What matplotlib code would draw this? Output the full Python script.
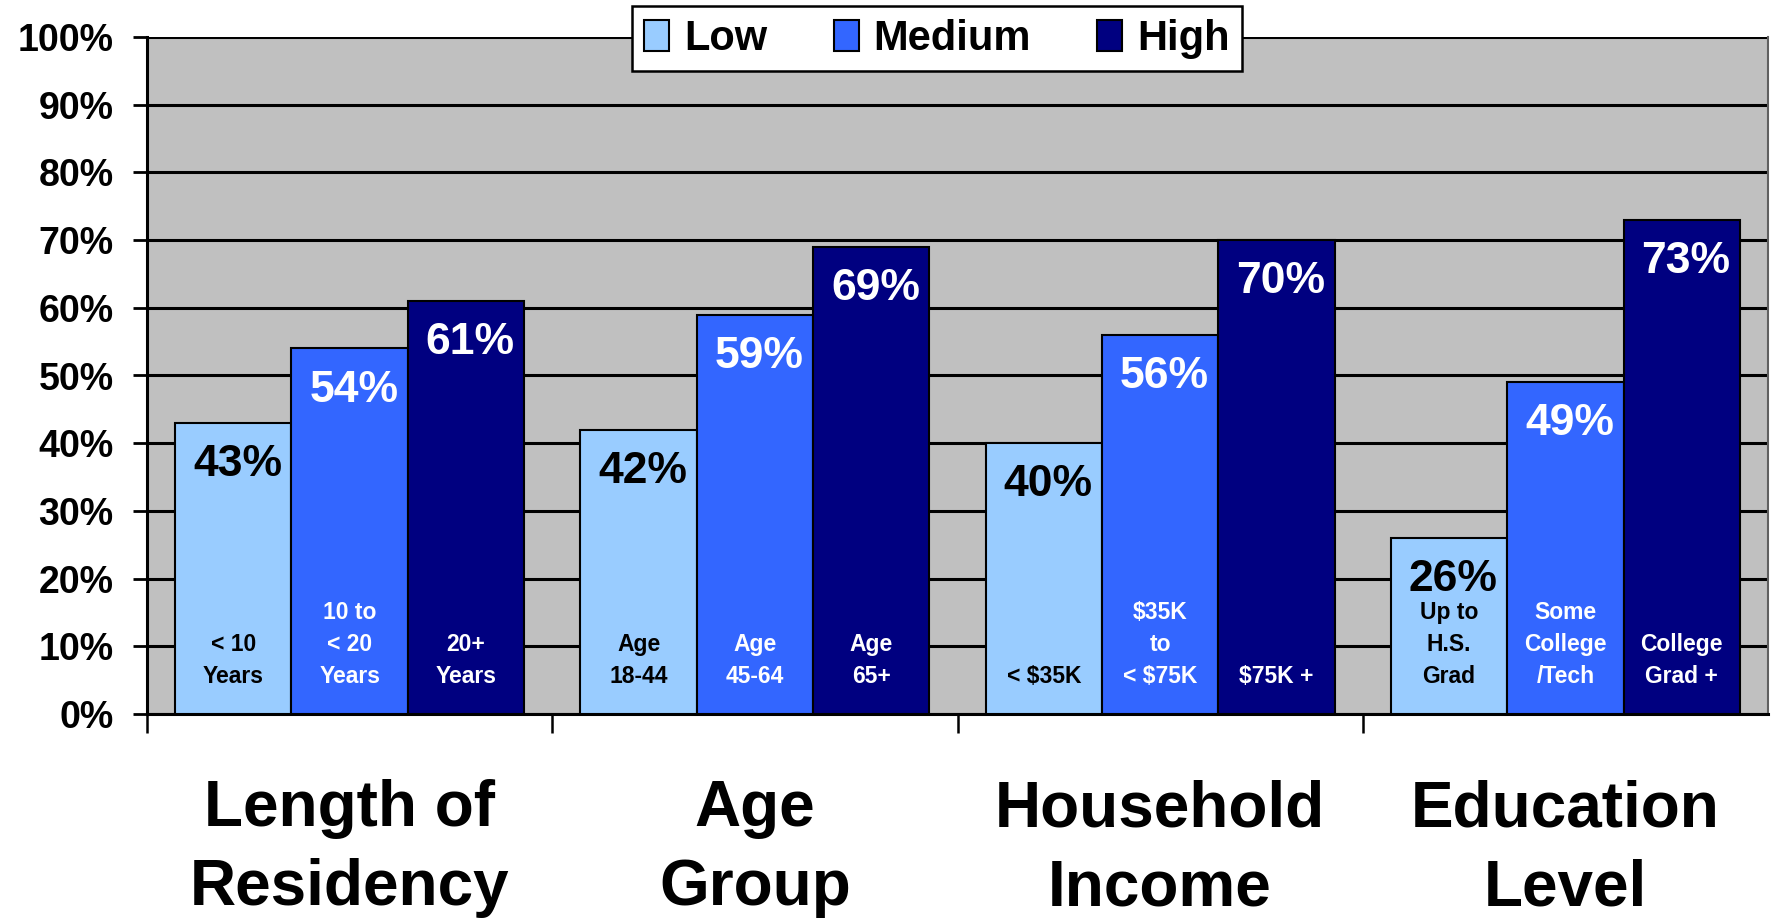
import matplotlib
matplotlib.use("Agg")
import matplotlib.pyplot as plt
import numpy as np
from matplotlib.ticker import FixedLocator

plt.rcParams['font.family'] = ['Liberation Sans', 'DejaVu Sans']
plt.rcParams['font.weight'] = 'bold'

groups = ["Length of\nResidency", "Age\nGroup", "Household\nIncome", "Education\nLevel"]
series = ["Low", "Medium", "High"]
low = [43, 42, 40, 26]
medium = [54, 59, 56, 49]
high = [61, 69, 70, 73]
low_labels = ["< 10\nYears", "Age\n18-44", "< $35K", "Up to\nH.S.\nGrad"]
medium_labels = ["10 to\n< 20\nYears", "Age\n45-64", "$35K\nto\n< $75K", "Some\nCollege\n/Tech"]
high_labels = ["20+\nYears", "Age\n65+", "$75K +", "College\nGrad +"]
yticks = [0, 10, 20, 30, 40, 50, 60, 70, 80, 90, 100]

colors = ["#99CCFF", "#3366FF", "#000080"]
text_colors = ["black", "white", "white"]

fig = plt.figure(figsize=(17.72, 9.21), dpi=100)
ax = fig.add_axes([147/1772, 1-714/921, (1768-147)/1772, (714-37)/921])
ax.set_facecolor("#C0C0C0")

x = np.arange(len(groups))
w = 0.287
all_vals = [low, medium, high]
all_labels = [low_labels, medium_labels, high_labels]
for j, (vals, labs) in enumerate(zip(all_vals, all_labels)):
    xs = x + (j - 1) * w
    ax.bar(xs, vals, width=w, color=colors[j], edgecolor="black",
           linewidth=1.5, zorder=3, label=series[j])
    for xi, v, lab in zip(xs, vals, labs):
        ax.annotate(f"{v}%", (xi, v), xytext=(3, -30), textcoords="offset points",
                    ha="center", va="center", fontsize=32, fontweight="bold",
                    color=text_colors[j], zorder=5)
        ax.text(xi, 3.8, lab, ha="center", va="bottom", multialignment="center",
                fontsize=16.5, fontweight="bold", color=text_colors[j],
                linespacing=1.5, zorder=5)

ax.set_ylim(0, 100)
ax.set_xlim(-0.5, len(groups) - 0.5)
ax.set_yticks(yticks)
ax.set_yticklabels([f"{t}%" for t in yticks], fontsize=27, fontweight="bold")
ax.yaxis.grid(True, color="black", linewidth=2.2, zorder=0)
ax.set_axisbelow(True)
ax.tick_params(axis="y", length=10, width=2, pad=14, direction="out")

ax.set_xticks(x)
ax.set_xticklabels(groups, fontsize=46, fontweight="bold", linespacing=1.4)
ax.tick_params(axis="x", which="major", length=0, pad=47)
ax.xaxis.set_minor_locator(FixedLocator(np.arange(len(groups)) - 0.5))
ax.tick_params(axis="x", which="minor", length=14, width=1.8, direction="out")

for s in ["left", "bottom"]:
    ax.spines[s].set_linewidth(2.2)
    ax.spines[s].set_color("black")
ax.spines["top"].set_visible(False)
ax.spines["right"].set_color("#606060")
ax.spines["right"].set_linewidth(1.5)

leg = fig.legend(loc="center", bbox_to_anchor=(937/1772, 1-39/921), ncol=3,
                 frameon=True, fancybox=False, edgecolor="black", framealpha=1,
                 facecolor="white",
                 handlelength=0.6, handleheight=0.8, handletextpad=0.35,
                 columnspacing=1.6, borderpad=0.3, borderaxespad=0,
                 prop={"weight": "bold", "size": 30})
leg.get_frame().set_linewidth(1.8)
leg.set_zorder(10)

fig.savefig("out.png", dpi=100)
